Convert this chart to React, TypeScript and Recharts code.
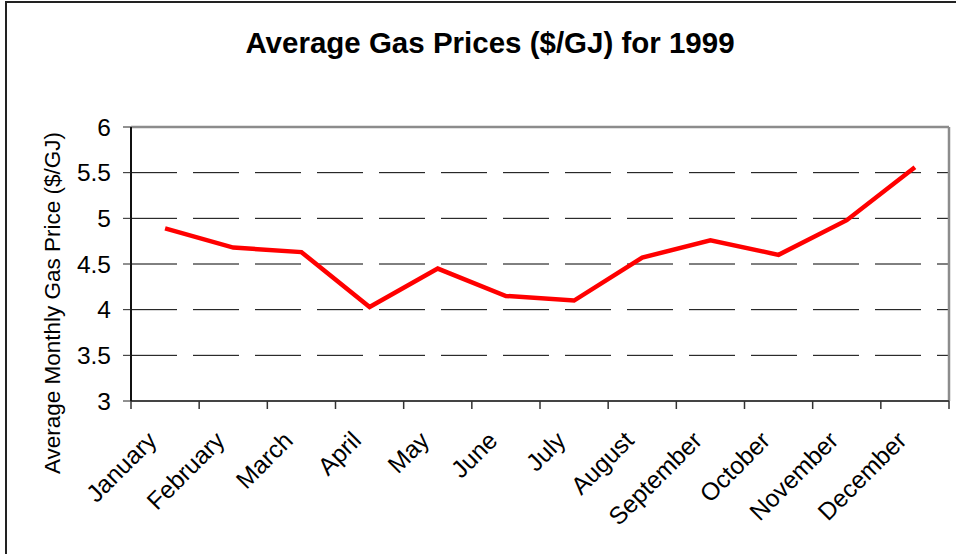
import { LineChart, Line, XAxis, YAxis, CartesianGrid, ReferenceLine } from "recharts";

const months = [
  "January", "February", "March", "April", "May", "June",
  "July", "August", "September", "October", "November", "December",
];
const prices = [4.89, 4.68, 4.63, 4.03, 4.45, 4.15, 4.1, 4.57, 4.76, 4.6, 4.98, 5.56];
const yTicks = [3, 3.5, 4, 4.5, 5, 5.5, 6];

const FONT = "'Liberation Sans', Arial, sans-serif";

const data = months.map((m, i) => ({ x: i + 0.5, month: m, price: prices[i] }));

// integer ticks = category boundaries (tick marks), half ticks = month labels
const xTicks: number[] = [];
for (let i = 0; i <= months.length * 2; i++) xTicks.push(i / 2);

function MonthTick(props: any) {
  const { x, y, payload } = props;
  const v = payload.value as number;
  if (Number.isInteger(v)) {
    return <line x1={x} y1={y} x2={x} y2={y + 8} stroke="#333" strokeWidth={1.5} />;
  }
  const label = months[Math.floor(v)];
  const ax = x - 7;
  const ay = y + 41;
  return (
    <text
      x={ax}
      y={ay}
      textAnchor="end"
      fontSize={24.5}
      fontFamily={FONT}
      fill="#000"
      transform={`rotate(-45 ${ax} ${ay})`}
    >
      {label}
    </text>
  );
}

export default function App() {
  return (
    <div style={{ position: "fixed", left: 0, top: 0, width: 956, height: 554, background: "#fff" }}>
      {/* outer chart frame */}
      <div
        style={{
          position: "absolute",
          left: 5,
          top: 1,
          width: 960,
          height: 560,
          borderLeft: "2px solid #222",
          borderTop: "2px solid #222",
        }}
      />
      <div style={{ position: "absolute", left: 0, top: 0 }}>
        <LineChart width={956} height={554} data={data} margin={{ top: 127, right: 7, bottom: 53, left: 0 }}>
          <text x={490} y={53} textAnchor="middle" fontSize={29.5} fontWeight="bold" fontFamily={FONT} fill="#000">
            Average Gas Prices ($/GJ) for 1999
          </text>
          <text
            x={60}
            y={303}
            textAnchor="middle"
            fontSize={22.5}
            fontFamily={FONT}
            fill="#000"
            transform="rotate(-90 60 303)"
          >
            Average Monthly Gas Price ($/GJ)
          </text>
          <CartesianGrid vertical={false} stroke="#000" strokeDasharray="46 16" />
          <XAxis
            dataKey="x"
            type="number"
            domain={[0, months.length]}
            ticks={xTicks}
            interval={0}
            height={100}
            tickSize={0}
            tickMargin={0}
            tickLine={false}
            tick={<MonthTick />}
            axisLine={{ stroke: "#444", strokeWidth: 2 }}
          />
          <YAxis
            domain={[3, 6]}
            ticks={yTicks}
            width={131}
            interval={0}
            tickSize={8}
            tickMargin={12}
            tick={{ fontSize: 24.5, fontFamily: FONT, fill: "#000" }}
            tickLine={{ stroke: "#222" }}
            axisLine={{ stroke: "#111", strokeWidth: 2 }}
          />
          <ReferenceLine y={6} stroke="#8c8c8c" strokeWidth={2.5} />
          <ReferenceLine x={months.length} stroke="#8c8c8c" strokeWidth={2.5} />
          <Line
            type="linear"
            dataKey="price"
            stroke="#ff0000"
            strokeWidth={4.5}
            dot={false}
            isAnimationActive={false}
          />
        </LineChart>
      </div>
    </div>
  );
}
